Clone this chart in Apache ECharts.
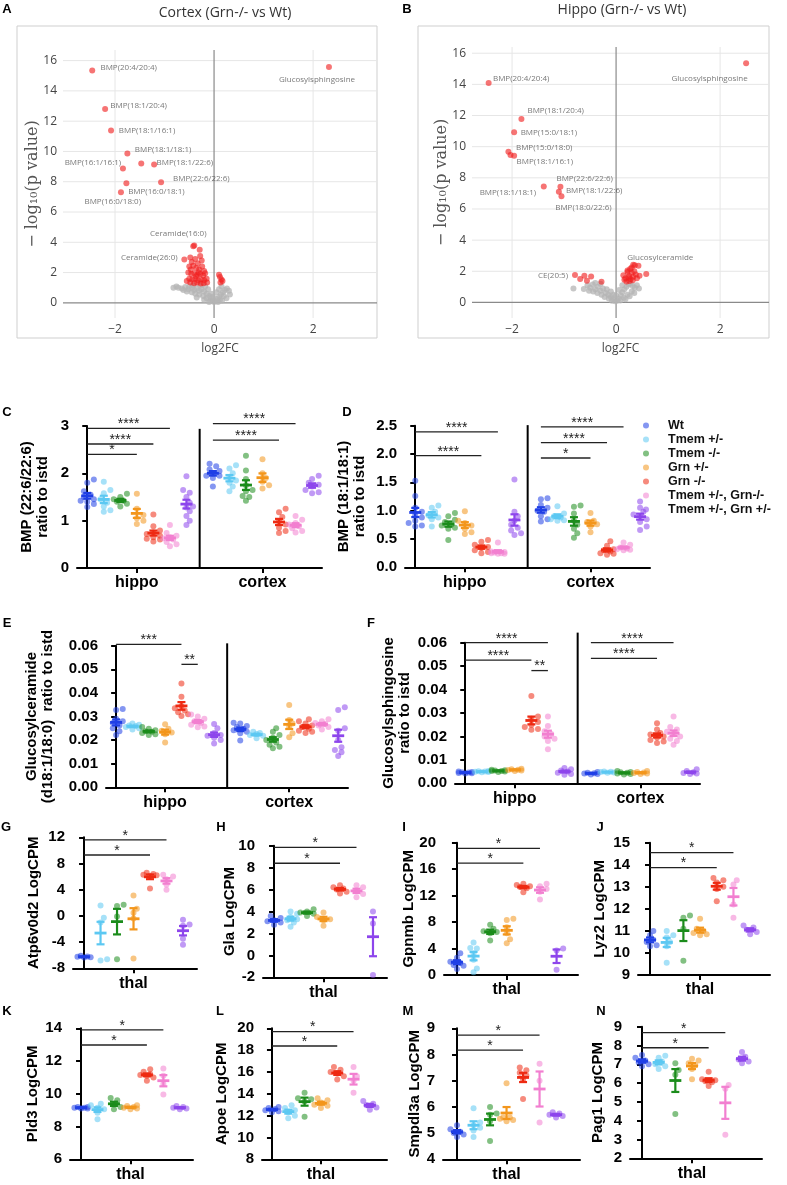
<!DOCTYPE html>
<html><head><meta charset="utf-8">
<script src="https://cdn.jsdelivr.net/npm/echarts@6/dist/echarts.min.js"></script>
<style>html,body{margin:0;padding:0;background:#fff}#c{width:787px;height:1185px}</style>
</head><body><div id="c"></div>
<script>
// ---------------- DATA ----------------
const groupNames = ['Wt','Tmem +/-','Tmem -/-','Grn +/-','Grn -/-','Tmem +/-, Grn-/-','Tmem +/-, Grn +/-'];
const groupColors = ['#1f3fe6','#5cc8f2','#1b8c1b','#f3961c','#ee2a12','#f27fd0','#8d45ec'];

// Panel A volcano (Cortex)
const volcA_labeled = [
  ['BMP(20:4/20:4)',-2.46,15.34],['Glucosylsphingosine',2.32,15.58],['BMP(18:1/20:4)',-2.20,12.81],
  ['BMP(18:1/16:1)',-2.08,11.38],['BMP(18:1/18:1)',-1.75,9.86],['BMP(16:1/16:1)',-1.84,8.87],
  ['BMP(18:1/22:6)',-1.21,9.13],['BMP(22:6/22:6)',-1.07,7.97],['BMP(16:0/18:1)',-1.77,7.90],
  ['BMP(16:0/18:0)',-1.88,7.31],['Ceramide(16:0)',-0.42,3.74],['Ceramide(26:0)',-0.60,2.86]
];
const volcA_red = [[-1.47,9.20],[-0.40,3.78],[-0.29,3.50],[-0.48,3.0],[-0.45,2.7],[-0.38,2.9],[-0.33,2.6],[-0.28,3.1],
  [-0.25,2.8],[-0.50,2.4],[-0.47,2.2],[-0.42,2.45],[-0.36,2.3],[-0.30,2.2],[-0.24,2.4],[-0.20,2.1],[-0.52,2.0],
  [-0.46,1.9],[-0.40,1.95],[-0.34,1.85],[-0.28,1.9],[-0.22,1.8],[-0.18,1.95],[-0.50,1.6],[-0.44,1.55],[-0.38,1.6],
  [-0.32,1.5],[-0.26,1.55],[-0.20,1.5],[-0.15,1.6],[-0.48,1.35],[-0.40,1.3],[-0.34,1.35],[-0.27,1.28],[-0.21,1.3],
  [-0.14,1.35],[-0.55,1.45],[-0.36,1.75],[-0.31,2.0],[0.10,1.85],[0.12,1.70],[0.15,1.55],[0.17,1.45],[0.13,1.35]];
const volcA_grey = [[-0.82,1.0],[-0.76,1.08],[-0.72,1.0],[-0.65,0.95],[-0.58,1.05],[-0.52,0.9],[-0.45,1.0],[-0.40,0.85],
  [-0.35,0.95],[-0.30,0.80],[-0.25,0.9],[-0.20,0.75],[-0.15,0.6],[-0.10,0.45],[-0.06,0.3],[-0.03,0.15],[0.0,0.05],
  [0.03,0.12],[0.06,0.25],[0.10,0.4],[0.14,0.55],[0.18,0.7],[0.22,0.85],[0.26,0.95],[0.30,0.8],[0.20,0.45],[0.12,0.2],
  [-0.08,0.15],[-0.15,0.3],[-0.22,0.45],[-0.30,0.55],[-0.38,0.6],[-0.45,0.7],[-0.55,0.75],[-0.62,0.85],[-0.12,0.9],
  [-0.05,0.6],[0.05,0.7],[0.10,0.9],[0.15,1.1],[-0.18,1.1],[-0.28,1.15],[-0.42,1.15],[-0.50,1.1],[0.25,0.3],[0.32,0.55],
  [-0.02,0.4],[0.08,0.05],[-0.10,0.05],[-0.20,0.2],[0.16,0.15],[-0.35,0.35]];

// Panel B volcano (Hippo)
const volcB_labeled = [
  ['BMP(20:4/20:4)',-2.45,14.09],['Glucosylsphingosine',2.50,15.36],['BMP(18:1/20:4)',-1.82,11.78],
  ['BMP(15:0/18:1)',-1.96,10.92],['BMP(15:0/18:0)',-2.07,9.68],['BMP(18:1/16:1)',-1.96,9.42],
  ['BMP(18:1/18:1)',-1.39,7.45],['BMP(22:6/22:6)',-1.07,7.43],['BMP(18:1/22:6)',-1.10,7.11],
  ['BMP(18:0/22:6)',-1.05,6.81],['Glucosylceramide',0.33,2.42],['CE(20:5)',-0.79,1.76]
];
const volcB_red = [[-2.03,9.47],[0.36,2.38],[0.43,2.36],[0.58,1.82],[0.45,1.71],[0.14,1.75],[0.27,2.14],[0.22,1.95],
  [0.30,1.9],[0.35,2.0],[0.25,1.7],[0.18,1.55],[0.28,1.5],[0.33,1.65],[0.38,1.8],[0.20,1.35],[0.26,1.38],[0.32,1.42],
  [0.16,1.45],[0.24,1.6],[0.30,2.25],[0.22,2.05],[0.40,1.55],[-0.69,1.5],[-0.61,1.71],[-0.48,1.67],[-0.28,1.33],[-0.56,1.39]];
const volcB_grey = [[-0.82,0.9],[-0.62,0.86],[-0.55,1.1],[-0.50,0.95],[-0.45,1.15],[-0.40,0.85],[-0.35,1.0],[-0.30,0.75],
  [-0.25,0.9],[-0.20,0.6],[-0.15,0.5],[-0.10,0.35],[-0.06,0.2],[-0.02,0.08],[0.02,0.1],[0.05,0.25],[0.09,0.45],[0.12,0.65],
  [0.16,0.85],[0.20,1.0],[0.24,1.15],[0.28,1.2],[0.32,1.05],[0.36,0.95],[0.40,1.1],[0.44,0.9],[0.30,0.7],[0.22,0.5],
  [0.15,0.3],[0.08,0.12],[-0.08,0.1],[-0.14,0.25],[-0.22,0.35],[-0.28,0.5],[-0.36,0.6],[-0.44,0.7],[-0.52,0.75],
  [-0.18,0.85],[-0.10,0.7],[0.0,0.45],[0.06,0.8],[0.12,1.1],[-0.30,1.2],[-0.40,1.25],[0.18,0.2],[-0.05,0.5],[0.26,0.4],[0.35,0.6]];
const volcTicksY = [0,2,4,6,8,10,12,14,16];
const volcTicksX = [-2,0,2];

// Panel C: BMP (22:6/22:6)
const C_hippo = [[1.87,1.80,1.62,1.55,1.50,1.45,1.40,1.35,1.29,1.42],[1.82,1.65,1.58,1.45,1.38,1.30,1.22,1.19],
  [1.57,1.50,1.45,1.42,1.40,1.36,1.30],[1.57,1.25,1.12,1.05,1.00,0.93],[1.13,0.88,0.79,0.75,0.72,0.68,0.65,0.60,0.56,0.62],
  [0.91,0.74,0.68,0.63,0.60,0.55,0.50,0.46,0.65],[1.94,1.65,1.59,1.50,1.38,1.30,1.20,1.10,1.00,0.91,1.28]];
const C_cortex = [[2.20,2.15,2.08,2.05,2.00,1.95,1.95,1.90,1.72],[2.17,2.10,2.00,1.92,1.85,1.80,1.72,1.62],
  [2.37,2.06,1.88,1.75,1.65,1.62,1.52,1.50,1.42],[2.30,2.00,1.90,1.82,1.75,1.68],[1.25,1.18,1.08,0.98,0.92,0.85,0.78,0.74],
  [1.10,1.02,0.95,0.92,0.88,0.84,0.78,0.75],[1.95,1.88,1.80,1.76,1.72,1.65,1.60,1.58]];
const C_sig = [['hippo',0,5,2.95,'****'],['hippo',0,4,2.62,'****'],['hippo',0,3,2.40,'*'],['cortex',0,5,3.05,'****'],['cortex',0,4,2.70,'****']];

// Panel D: BMP (18:1/18:1)
const D_hippo = [[1.53,1.26,1.05,0.98,0.92,0.88,0.82,0.78,0.74,0.72],[1.09,1.05,0.98,0.92,0.88,0.85,0.72],
  [0.96,0.90,0.84,0.80,0.76,0.74,0.70,0.68,0.48],[0.99,0.82,0.78,0.74,0.68,0.62,0.59],[0.48,0.45,0.40,0.36,0.34,0.30,0.27,0.25],
  [0.44,0.28,0.27,0.26,0.25,0.24,0.24,0.25],[1.55,0.98,0.90,0.82,0.75,0.70,0.65,0.60,0.57]];
const D_cortex = [[1.22,1.20,1.10,1.05,1.00,0.98,0.90,0.85,0.81],[1.08,0.95,0.90,0.88,0.85,0.83,0.82],
  [1.09,1.07,0.95,0.82,0.75,0.68,0.60,0.52],[0.96,0.82,0.80,0.76,0.72,0.62],[0.46,0.38,0.32,0.30,0.28,0.25,0.22,0.24],
  [0.44,0.40,0.35,0.33,0.32,0.31,0.30],[1.16,1.05,0.98,0.93,0.90,0.85,0.80,0.72,0.66]];
const D_sig = [['hippo',0,5,2.39,'****'],['hippo',0,4,1.97,'****'],['cortex',0,5,2.48,'****'],['cortex',0,4,2.20,'****'],['cortex',0,3,1.93,'*']];

// Panel E: Glucosylceramide
const E_hippo = [[0.0332,0.0328,0.0290,0.0280,0.0272,0.0262,0.0250,0.0238,0.0222],[0.0270,0.0265,0.0260,0.0255,0.0250,0.0245,0.0262],
  [0.0255,0.0248,0.0242,0.0238,0.0235,0.0230,0.0225,0.0222],[0.0267,0.0248,0.0240,0.0232,0.0225,0.0190],
  [0.0440,0.0384,0.0345,0.0335,0.0325,0.0318,0.0310,0.0302],[0.0308,0.0300,0.0290,0.0280,0.0272,0.0265,0.0258,0.0254],
  [0.0268,0.0250,0.0230,0.0222,0.0218,0.0210,0.0200,0.0186]];
const E_cortex = [[0.0274,0.0270,0.0260,0.0255,0.0248,0.0242,0.0235,0.0229,0.0198],[0.0235,0.0230,0.0226,0.0222,0.0218,0.0208],
  [0.0250,0.0235,0.0222,0.0210,0.0200,0.0190,0.0180,0.0172,0.0165],[0.0349,0.0285,0.0270,0.0255,0.0229,0.0212],
  [0.0288,0.0280,0.0270,0.0262,0.0255,0.0248,0.0240,0.0235,0.0230],[0.0288,0.0280,0.0272,0.0268,0.0262,0.0255,0.0245],
  [0.0339,0.0328,0.0250,0.0240,0.0200,0.0170,0.0158,0.0148,0.0133]];
const E_sig = [['hippo',0,4,0.0606,'***'],['hippo',4,5,0.0521,'**']];

// Panel F: Glucosylsphingosine
const F_hippo = [[0.0050,0.0048,0.0046,0.0044,0.0043,0.0047,0.0042],[0.0052,0.0050,0.0049,0.0048,0.0051,0.0047],
  [0.0058,0.0055,0.0053,0.0050,0.0048,0.0056,0.0052],[0.0062,0.0060,0.0057,0.0055,0.0053,0.0058],
  [0.0373,0.0285,0.0275,0.0262,0.0250,0.0240,0.0232,0.0228],[0.0285,0.0245,0.0222,0.0210,0.0200,0.0190,0.0180,0.0145],
  [0.0065,0.0060,0.0055,0.0050,0.0045,0.0040,0.0036]];
const F_cortex = [[0.0048,0.0045,0.0043,0.0040,0.0038,0.0042],[0.0050,0.0048,0.0046,0.0045,0.0049],
  [0.0052,0.0048,0.0045,0.0042,0.0040,0.0047,0.0038],[0.0052,0.0048,0.0044,0.0042,0.0040,0.0046],
  [0.0256,0.0230,0.0215,0.0208,0.0200,0.0195,0.0185,0.0178,0.0172],[0.0285,0.0240,0.0230,0.0220,0.0212,0.0200,0.0190,0.0180,0.0165],
  [0.0060,0.0052,0.0047,0.0044,0.0042,0.0040]];
const F_sig = [['hippo',0,5,0.0600,'****'],['hippo',0,4,0.0526,'****'],['hippo',4,5,0.0481,'**'],['cortex',0,5,0.0600,'****'],['cortex',0,4,0.0533,'****']];

// Panels G-N: thal LogCPM
const G_thal = [[-6.1,-6.2,-6.3,-6.35,-6.25],[1.6,-0.3,-6.6,-6.8,-1.0],[1.7,1.5,-6.6,-0.1],[3.1,1.1,0.5,-0.4,-6.5],[6.6,6.4,6.2,6.1,4.2,6.3],[6.3,6.0,5.6,4.8,4.0],[-0.6,-1.3,-1.5,-3.5,-4.4]];
const H_thal = [[3.6,3.4,3.2,3.1,3.0,2.8],[4.0,3.8,3.5,3.2,3.0,2.6,3.3],[4.2,4.0,3.9,3.8,3.6],[3.9,3.5,3.3,3.2,2.7],[6.4,6.2,6.1,6.0,5.8,5.65],[6.4,6.2,5.9,5.6,5.3],[4.0,2.9,-1.8]];
const I_thal = [[3.3,2.6,2.0,1.8,1.5,0.9,1.4],[4.9,4.0,3.3,2.3,1.0,0.4,4.1],[7.6,7.0,6.6,6.3,5.2,6.5],[8.5,8.3,7.2,6.3,5.4,4.8],[13.8,13.6,13.4,13.3,13.1,12.5],[13.8,13.4,13.0,12.6,11.4],[4.0,3.7,0.8]];
const J_thal = [[11.0,10.8,10.6,10.5,10.35,10.3],[11.0,10.8,10.7,10.5,10.3,9.56],[11.7,11.6,11.1,9.65],[11.55,11.1,11.0,10.9,10.8,10.85],[13.4,13.3,13.2,13.0,12.9,12.35],[13.3,13.1,12.2,11.6],[11.25,11.15,11.05,10.95,10.85]];
const K_thal = [[9.2,9.15,9.1,9.15,9.1,9.2],[9.4,9.3,9.15,9.05,8.85,8.45],[9.75,9.6,9.35,9.2,9.05],[9.3,9.25,9.2,9.15,9.1,9.05],[11.5,11.35,11.2,11.1,11.0,10.8,11.15],[11.55,11.1,10.6,9.95],[9.25,9.2,9.15,9.1,9.05]];
const L_thal = [[12.8,12.7,12.6,12.5,12.4,12.3],[12.95,12.7,12.5,12.3,12.0,11.75],[14.1,13.6,13.3,11.9,13.5],[13.6,13.4,13.2,13.0,12.9,12.7],[16.45,16.2,16.0,15.85,15.6,15.3],[16.45,15.6,15.2,14.1],[13.35,13.1,12.95,12.75,12.55]];
const M_thal = [[5.3,5.15,5.05,4.95,4.85,5.0],[5.95,5.4,5.3,5.2,5.1,4.85],[6.0,5.75,5.7,5.45,4.7],[6.9,5.6,5.6,5.55,5.5,5.45],[7.5,7.4,7.3,7.2,7.05,6.3],[7.65,7.0,5.4],[5.8,5.75,5.7,5.65,5.6]];
const N_thal = [[7.5,7.35,7.2,7.1,7.0,6.9],[7.45,7.35,7.15,7.0,6.9,6.75],[7.05,6.7,6.45,4.35],[7.3,7.2,7.05,6.95,6.75,6.2],[6.6,6.2,6.15,6.1,6.05,5.85],[5.9,5.7,3.25],[7.65,7.4,7.25,7.15,7.05]];
const G_sig = [[0,5,11.6,'*'],[0,4,9.3,'*']];
const H_sig = [[0,5,9.85,'*'],[0,4,8.4,'*']];
const I_sig = [[0,5,19.15,'*'],[0,4,16.9,'*']];
const J_sig = [[0,5,14.55,'*'],[0,4,13.87,'*']];
const K_sig = [[0,5,13.9,'*'],[0,4,12.98,'*']];
const L_sig = [[0,5,19.7,'*'],[0,4,18.38,'*']];
const M_sig = [[0,5,8.74,'*'],[0,4,8.17,'*']];
const N_sig = [[0,5,8.68,'*'],[0,4,7.88,'*']];

// ---------------- LAYOUT / BUILD ----------------
const SANS = '"Liberation Sans", Arial, Helvetica, sans-serif';
const OPEN = '"Open Sans", "Liberation Sans", sans-serif';
const CORTEX_OFF = 7.6;
const opt = {animation:false, backgroundColor:'#fff', grid:[], xAxis:[], yAxis:[], series:[], graphic:[],
  legend:{data:groupNames, orient:'vertical', left:643, top:419, padding:0, itemWidth:34, itemHeight:6, itemGap:1,
    icon:'circle', selectedMode:false, textStyle:{fontSize:12.5, fontWeight:'bold', color:'#111', fontFamily:SANS, lineHeight:13}}};

function addGrid(g){ opt.grid.push(Object.assign({outerBoundsMode:'none', containLabel:false}, g)); return opt.grid.length-1; }

function stats(a){ const n=a.length, m=a.reduce((s,v)=>s+v,0)/n;
  const sd=Math.sqrt(a.reduce((s,v)=>s+(v-m)*(v-m),0)/(n-1)); return [m, sd/Math.sqrt(n)]; }

function swarm(vals, pxY, pxX, d){
  const idx = vals.map((v,i)=>i).sort((a,b)=>vals[a]-vals[b]);
  const placed=[], off=new Array(vals.length).fill(0);
  const steps=[0,1,-1,2,-2];
  idx.forEach(i=>{
    const py=vals[i]*pxY; let best=0, bestCost=Infinity;
    for(const k of steps){ const px=k*d*0.55; let cost=0;
      placed.forEach(p=>{const dist=Math.hypot(p[0]-px,p[1]-py); if(dist<d*0.8) cost+=d*0.8-dist;});
      if(cost<1e-6){best=px; bestCost=0; break;}
      if(cost<bestCost){bestCost=cost; best=px;} }
    placed.push([best,py]); off[i]=best/pxX; });
  return off;
}

const yAxisStyle = {axisLine:{show:true, lineStyle:{color:'#000', width:2}}, axisTick:{show:true, length:5, lineStyle:{color:'#000', width:2}},
  splitLine:{show:false}, nameLocation:'middle', nameRotate:90, nameMoveOverlap:false,
  nameTextStyle:{fontSize:15, fontWeight:'bold', color:'#000', fontFamily:SANS, lineHeight:16}};
const xLabelStyle = {fontSize:16, fontWeight:'bold', color:'#000', fontFamily:SANS, margin:7};

function meanRender(params, api){
  const x=api.value(0), m=api.value(1), s=api.value(2), col=groupColors[api.value(3)];
  const c=api.coord([x,m]), t=api.coord([x,m+s]), b=api.coord([x,m-s]);
  const st={stroke:col, lineWidth:2.2};
  return {type:'group', children:[
    {type:'line', shape:{x1:c[0]-6,y1:c[1],x2:c[0]+6,y2:c[1]}, style:{stroke:col, lineWidth:2.8}},
    {type:'line', shape:{x1:c[0],y1:t[1],x2:c[0],y2:b[1]}, style:st},
    {type:'line', shape:{x1:c[0]-4,y1:t[1],x2:c[0]+4,y2:t[1]}, style:st},
    {type:'line', shape:{x1:c[0]-4,y1:b[1],x2:c[0]+4,y2:b[1]}, style:st}]};
}

function addAnnot(k, rows, texts, widths){
  opt.series.push({type:'custom', xAxisIndex:k, yAxisIndex:k, silent:true, z:5, clip:false, data:rows,
    renderItem:(params, api)=>{
      const r=rows[params.dataIndex];
      const a=api.coord([r[0], r[1]]), b=api.coord([r[2], r[3]]);
      const ch=[{type:'line', shape:{x1:a[0],y1:a[1],x2:b[0],y2:b[1]}, style:{stroke:widths[params.dataIndex]>1.5?'#000':'#222', lineWidth:widths[params.dataIndex]}}];
      const t=texts[params.dataIndex];
      if(t) ch.push({type:'text', x:(a[0]+b[0])/2, y:a[1]-4, style:{text:t, align:'center', verticalAlign:'middle', fontSize:14, fontFamily:SANS, fill:'#222'}});
      return {type:'group', children:ch};
    }});
}

function addGroups(k, regions, pxY, pxX){
  const means=[];
  for(let g=0; g<7; g++){
    const data=[];
    regions.forEach(([arr, base])=>{
      const vals=arr[g]; const offs=swarm(vals, pxY, pxX, 6);
      vals.forEach((v,i)=>data.push([base+g+offs[i], v]));
      const st=stats(vals); means.push([base+g, st[0], st[1], g]);
    });
    opt.series.push({name:groupNames[g], type:'scatter', xAxisIndex:k, yAxisIndex:k, data, symbolSize:6, silent:true, z:2,
      itemStyle:{color:groupColors[g], opacity:0.55}});
  }
  opt.series.push({type:'custom', xAxisIndex:k, yAxisIndex:k, silent:true, z:4, clip:false, data:means, renderItem:meanRender});
}

function buildStrip(p){
  const k=addGrid(p.grid); const xr=[-0.62, 14.2];
  const tv=[3, 3+CORTEX_OFF];
  opt.xAxis.push({gridIndex:k, type:'value', min:xr[0], max:xr[1],
    axisLine:{onZero:false, lineStyle:{color:'#000', width:2}}, axisTick:{customValues:tv, length:5, lineStyle:{color:'#000', width:2}},
    axisLabel:Object.assign({customValues:tv, formatter:v=>v<7?'hippo':'cortex'}, xLabelStyle), splitLine:{show:false}});
  opt.yAxis.push(Object.assign({gridIndex:k, type:'value', min:p.y[0], max:p.y[1], interval:p.y[2], name:p.name, nameGap:p.nameGap,
    axisLabel:{fontSize:15, fontWeight:'bold', color:'#000', fontFamily:SANS, margin:8, formatter:v=>v.toFixed(p.y[3])}}, yAxisStyle));
  const pxY=p.grid.height/(p.y[1]-p.y[0]), pxX=p.grid.width/(xr[1]-xr[0]);
  addGroups(k, [[p.hippo,0],[p.cortex,CORTEX_OFF]], pxY, pxX);
  const rows=[], texts=[], widths=[];
  p.sig.forEach(s=>{ const base=s[0]==='hippo'?0:CORTEX_OFF; rows.push([base+s[1], s[3], base+s[2], s[3]]); texts.push(s[4]); widths.push(1.3); });
  rows.push([6.8, p.y[0], 6.8, p.divTop]); texts.push(''); widths.push(2);
  addAnnot(k, rows, texts, widths);
}

function buildThal(p){
  const k=addGrid(p.grid); const xr=p.xr;
  opt.xAxis.push({gridIndex:k, type:'value', min:xr[0], max:xr[1],
    axisLine:{onZero:false, lineStyle:{color:'#000', width:2}}, axisTick:{customValues:[3], length:5, lineStyle:{color:'#000', width:2}},
    axisLabel:Object.assign({customValues:[3], formatter:()=>'thal'}, xLabelStyle), splitLine:{show:false}});
  opt.yAxis.push(Object.assign({gridIndex:k, type:'value', min:p.y[0], max:p.y[1], interval:p.y[2], name:p.name, nameGap:p.nameGap,
    axisLabel:{fontSize:15, fontWeight:'bold', color:'#000', fontFamily:SANS, margin:8}}, yAxisStyle));
  const pxY=p.grid.height/(p.y[1]-p.y[0]), pxX=p.grid.width/(xr[1]-xr[0]);
  addGroups(k, [[p.data,0]], pxY, pxX);
  addAnnot(k, p.sig.map(s=>[s[0], s[2], s[1], s[2]]), p.sig.map(s=>s[3]), p.sig.map(()=>1.3));
}

function minusFmt(v){ return v<0 ? '\u2212'+Math.abs(v) : String(v); }

function buildVolcano(p){
  const k=addGrid(p.grid);
  opt.xAxis.push({gridIndex:k, type:'value', min:p.xr[0], max:p.xr[1], axisLine:{show:false}, axisTick:{show:false}, splitLine:{show:false},
    axisLabel:{customValues:volcTicksX, formatter:minusFmt, color:'#444', fontSize:12, fontFamily:OPEN, margin:6},
    name:'log2FC', nameLocation:'middle', nameGap:25, nameTextStyle:{color:'#444', fontSize:12, fontFamily:OPEN}});
  opt.yAxis.push({gridIndex:k, type:'value', min:p.yr[0], max:p.yr[1], axisLine:{show:false}, axisTick:{show:false}, splitLine:{show:false},
    axisLabel:{customValues:volcTicksY, color:'#444', fontSize:12, fontFamily:OPEN, margin:6},
    name:'\u2212 log\u2081\u2080(p value)', nameLocation:'middle', nameRotate:90, nameGap:p.nameGap, nameMoveOverlap:false,
    nameTextStyle:{color:'#555', fontSize:16, fontFamily:'"DejaVu Serif", "Liberation Serif", serif'}});
  const lines=[]; volcTicksY.forEach(v=>lines.push([0,v])); volcTicksX.forEach(v=>lines.push([1,v]));
  opt.series.push({type:'custom', xAxisIndex:k, yAxisIndex:k, silent:true, z:1, clip:false, data:lines,
    renderItem:(params, api)=>{
      const cs=params.coordSys; const r=lines[params.dataIndex]; const zero=r[1]===0;
      let shape;
      if(r[0]===0){ const y=api.coord([0,r[1]])[1]; shape={x1:cs.x,y1:y,x2:cs.x+cs.width,y2:y}; }
      else { const x=api.coord([r[1],0])[0]; shape={x1:x,y1:cs.y,x2:x,y2:cs.y+cs.height}; }
      return {type:'line', shape, style:{stroke:zero?'#8a8a8a':'#e6e6e6', lineWidth:zero?1.2:1}, z2:zero?2:1};
    }});
  opt.series.push({type:'scatter', xAxisIndex:k, yAxisIndex:k, silent:true, z:3, symbolSize:6, data:p.grey,
    itemStyle:{color:'#b4b4b4', opacity:0.75}});
  opt.series.push({type:'scatter', xAxisIndex:k, yAxisIndex:k, silent:true, z:4, symbolSize:6, data:p.red,
    itemStyle:{color:'#f01e1e', opacity:0.62}});
  opt.series.push({type:'scatter', xAxisIndex:k, yAxisIndex:k, silent:true, z:5, symbolSize:6,
    itemStyle:{color:'#f01e1e', opacity:0.62},
    data:p.labeled.map((d,i)=>({value:[d[1],d[2]], label:{show:true, position:'inside', offset:p.offsets[i], formatter:d[0],
      fontSize:8, color:'#222', fontFamily:OPEN}}))});
  opt.graphic.push({type:'rect', shape:{x:p.frame[0], y:p.frame[1], width:p.frame[2], height:p.frame[3]}, style:{fill:'none', stroke:'#cfcfcf', lineWidth:1}, z:-1});
  opt.graphic.push({type:'text', x:p.title[1], y:p.title[2], style:{text:p.title[0], align:'center', verticalAlign:'middle', fontSize:14, fontFamily:OPEN, fill:'#333'}});
}

buildVolcano({grid:{left:63, top:50, width:314, height:268}, xr:[-3.05,3.29], yr:[-1,16.7], nameGap:22,
  labeled:volcA_labeled, red:volcA_red, grey:volcA_grey, frame:[17,26,360,312], title:['Cortex (Grn-/- vs Wt)',225,13],
  offsets:[[36.5,-3.3],[-12,12.7],[33.5,-3.3],[36,0],[35.7,-4],[-30,-5.7],[30.7,-1.7],[40.3,-3.3],[30,8],[-8.2,10],[-15,-12.4],[-35,-2.3]]});
buildVolcano({grid:{left:472, top:47, width:297, height:271}, xr:[-2.77,2.94], yr:[-1,16.4], nameGap:22,
  labeled:volcB_labeled, red:volcB_red, grey:volcB_grey, frame:[418,26,351,312], title:['Hippo (Grn-/- vs Wt)',622,10],
  offsets:[[32.6,-4],[-36.5,15.7],[34.3,-8],[34.8,0],[35.8,-3.7],[30.7,5.6],[-35.9,6],[24.3,-8.4],[35.3,-1],[22,11],[27,-7],[-22,0.7]]});

buildStrip({grid:{left:77, top:426, width:245, height:142}, y:[0,3,1,0], name:'BMP (22:6/22:6)\nratio to istd', nameGap:26, divTop:2.94, hippo:C_hippo, cortex:C_cortex, sig:C_sig});
buildStrip({grid:{left:405, top:425.7, width:245, height:141.6}, y:[0,2.5,0.5,1], name:'BMP (18:1/18:1)\nratio to istd', nameGap:37, divTop:2.51, hippo:D_hippo, cortex:D_cortex, sig:D_sig});
buildStrip({grid:{left:106, top:645.7, width:242, height:141.6}, y:[0,0.06,0.01,2], name:'Glucosylceramide\n(d18:1/18:0)  ratio to istd', nameGap:50, divTop:0.061, hippo:E_hippo, cortex:E_cortex, sig:E_sig});
buildStrip({grid:{left:455, top:642.7, width:245, height:140.6}, y:[0,0.06,0.01,2], name:'Glucosylsphingosine\nratio to istd', nameGap:42, divTop:0.0643, hippo:F_hippo, cortex:F_cortex, sig:F_sig});

buildThal({grid:{left:73, top:837.3, width:124, height:131}, xr:[-0.67,6.85], y:[-8,12,4], name:'Atp6v0d2 LogCPM', nameGap:31, data:G_thal, sig:G_sig});
buildThal({grid:{left:263, top:845.7, width:124, height:131.6}, xr:[-0.67,6.85], y:[-2,10,2], name:'Gla LogCPM', nameGap:25, data:H_thal, sig:H_sig});
buildThal({grid:{left:444, top:842.7, width:134, height:132.3}, xr:[-0.78,7.29], y:[0,20,4], name:'Gpnmb LogCPM', nameGap:27, data:I_thal, sig:I_sig});
buildThal({grid:{left:638, top:842.7, width:132, height:132.3}, xr:[-0.72,7.19], y:[9,15,1], name:'Lyz2 LogCPM', nameGap:30, data:J_thal, sig:J_sig});
buildThal({grid:{left:70, top:1028.3, width:123, height:131}, xr:[-0.67,6.8], y:[6,14,2], name:'Pld3 LogCPM', nameGap:29, data:K_thal, sig:K_sig});
buildThal({grid:{left:262, top:1028.3, width:125, height:131}, xr:[-0.61,7.05], y:[8,20,2], name:'Apoe LogCPM', nameGap:32, data:L_thal, sig:L_sig});
buildThal({grid:{left:443, top:1028.3, width:137, height:131}, xr:[-0.85,7.45], y:[4,9,1], name:'Smpdl3a LogCPM', nameGap:20, data:M_thal, sig:M_sig});
buildThal({grid:{left:630, top:1026.7, width:132, height:131.6}, xr:[-0.72,7.2], y:[2,9,1], name:'Pag1 LogCPM', nameGap:24, data:N_thal, sig:N_sig});

[['A',7,9],['B',407,9],['C',7,412],['D',347,412],['E',7,623],['F',371,623],['G',6,827],['H',221,827],['I',404,827],['J',600,827],
 ['K',7,1011],['L',220,1011],['M',408,1011],['N',601,1011]].forEach(l=>{
  opt.graphic.push({type:'text', x:l[1], y:l[2], style:{text:l[0], align:'center', verticalAlign:'middle', fontSize:13, fontWeight:'bold', fontFamily:SANS, fill:'#000'}});
});

const chart = echarts.init(document.getElementById('c'), null, {renderer:'canvas'});
chart.setOption(opt);
</script></body></html>
